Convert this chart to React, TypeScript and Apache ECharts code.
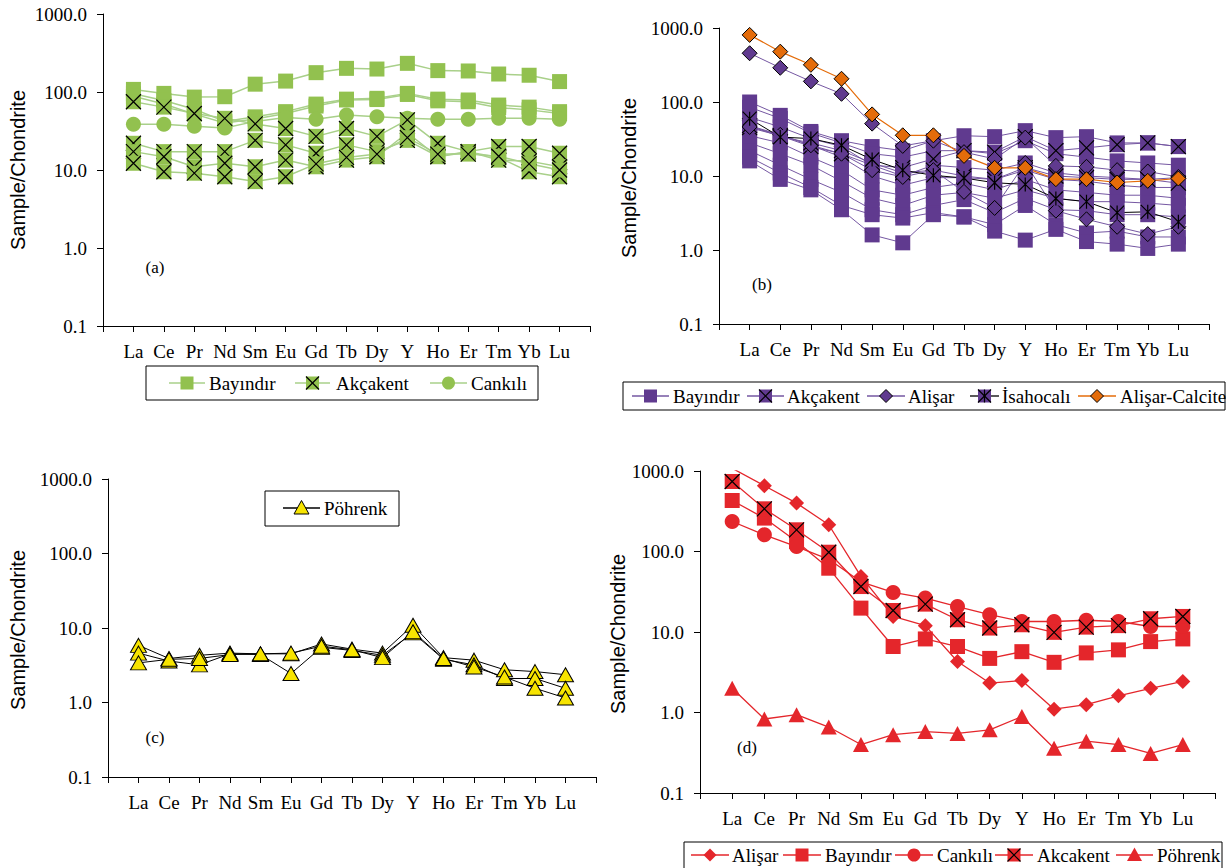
import React, { useEffect, useRef } from 'react';
import * as echarts from 'echarts';

// ---------- data ----------
const REE = ['La', 'Ce', 'Pr', 'Nd', 'Sm', 'Eu', 'Gd', 'Tb', 'Dy', 'Y', 'Ho', 'Er', 'Tm', 'Yb', 'Lu'];

// panel (a)
const aBayindir1 = [108, 96, 86, 87, 126, 138, 177, 201, 197, 233, 188, 186, 170, 164, 136];
const aBayindir2 = [95, 78, 60, 42, 48, 56, 70, 81, 83, 96, 81, 79, 68, 64, 56];
const aBayindir3 = [88, 70, 52, 40, 45, 53, 66, 79, 80, 93, 77, 75, 63, 59, 53];
const aCankili = [38.5, 38.5, 36.5, 34.5, 42, 47, 44.7, 50.7, 48, 46, 44.7, 44.7, 46, 46, 44.7];
const aAkcakent1 = [75, 64, 53, 46, 39, 34, 27, 34, 27, 44, 22, 17.2, 20, 20, 16.4];
const aAkcakent2 = [22, 17.2, 17.2, 17.2, 24, 21, 16.4, 21, 17.2, 24, 15, 17.2, 13.4, 13, 11];
const aAkcakent3 = [17.2, 14.8, 11, 12.2, 11, 13.4, 11, 13.4, 14.8, 30, 14.8, 17, 14.5, 9.5, 8.2];
const aAkcakent4 = [12.2, 9.5, 9.1, 8.2, 7.1, 8.2, 12, 14.5, 16, 26, 16, 16, 15, 12, 10];

// panel (b)
const bBayindir1 = [100, 66, 40, 30, 25, 22, 30, 35, 34, 41, 33, 34, 28, 28, 25];
const bBayindir2 = [85, 60, 38, 28, 20, 18, 22, 22, 20, 30, 20, 18, 16, 15, 14];
const bBayindir3 = [62, 46, 32, 25, 14, 10, 14, 13, 12, 15, 11, 10, 9.5, 9, 9.5];
const bBayindir4 = [48, 36, 26, 18, 10, 7.5, 9.5, 9.5, 9, 12, 9, 8.5, 7.5, 7, 7];
const bBayindir5 = [35, 28, 18, 12, 6.5, 5.5, 7, 8, 6.5, 9, 6.5, 6, 5.5, 5.5, 5];
const bBayindir6 = [28, 20, 14, 8.5, 5, 4, 5.5, 6, 5, 6.5, 5, 4.5, 4.5, 4.3, 4];
const bBayindir7 = [22, 14, 9, 6, 3.5, 3, 4, 4.8, 3.2, 5, 3.5, 3.4, 3, 3, 2.8];
const bBayindir8 = [18, 11, 7, 4, 3, 2.7, 3.2, 2.8, 2.2, 4, 2.2, 1.7, 1.8, 1.5, 1.5];
const bBayindir9 = [16, 9, 6.5, 3.5, 1.6, 1.25, 3.0, 2.8, 1.8, 1.36, 1.9, 1.3, 1.2, 1.05, 1.2];
const bAkcakent1 = [45, 35, 25, 20, 14, 13, 17, 22, 21, 34, 22, 24, 26.5, 28, 25];
const bAkcakent2 = [48, 34, 28, 22, 15, 11, 12, 10, 9, 13, 10, 9.5, 9, 9, 8];
const bAlisar1 = [456, 290, 190, 129, 51, 25.5, 30, 21, 17, 33, 13.7, 13.3, 12, 11.5, 9.7];
const bAlisar2 = [46, 36, 26, 20, 12, 9.7, 12, 6.1, 3.7, 15, 3.4, 2.6, 2.06, 1.64, 2.06];
const bIsahocali = [59.6, 33.6, 32, 26, 16.7, 12, 10.2, 9.4, 8.1, 7.7, 4.97, 4.5, 3.2, 3.28, 2.4];
const bAlisarCalcite = [807, 479, 318, 206, 68, 35.5, 35.5, 18.7, 12.9, 12.9, 9.06, 9.06, 8.17, 8.6, 9.25];

// panel (c)
const cPohrenk1 = [5.85, 3.9, 4.3, 4.6, 4.5, 4.5, 6.1, 5.2, 4.6, 10.9, 4.0, 3.7, 2.75, 2.6, 2.36];
const cPohrenk2 = [4.6, 3.6, 3.2, 4.5, 4.4, 2.45, 5.5, 5.0, 4.3, 8.6, 3.8, 3.2, 2.1, 2.1, 1.55];
const cPohrenk3 = [3.4, 3.8, 3.9, 4.4, 4.5, 4.6, 5.7, 5.1, 4.0, 8.9, 3.9, 3.0, 2.2, 1.55, 1.15];

// panel (d)
const dAlisar = [1080, 655, 399, 215, 49, 15.6, 12, 4.3, 2.32, 2.5, 1.1, 1.25, 1.61, 2.0, 2.43];
const dBayindir = [430, 260, 133, 62, 19.8, 6.6, 8.2, 6.6, 4.7, 5.7, 4.2, 5.5, 6.0, 7.6, 8.2];
const dCankili = [236, 161, 115, 80, 42, 31, 26.4, 20.7, 16.4, 13.5, 13.5, 14, 13.5, 11.7, 11.7];
const dAkcakent = [741, 339, 186, 98, 36.7, 18.5, 22.2, 14.2, 11.2, 12.3, 9.9, 11.5, 12.0, 14.6, 15.6];
const dPohrenk = [2.0, 0.83, 0.94, 0.66, 0.40, 0.53, 0.58, 0.55, 0.61, 0.89, 0.36, 0.44, 0.40, 0.31, 0.40];

// ---------- styles ----------
const SERIF = '"Liberation Serif", "Times New Roman", serif';
const SANS = '"Liberation Sans", Arial, sans-serif';
const GREEN = '#92c14f';
const GREEN_LINE = '#a9d08a';
const PURPLE = '#603a8f';
const PURPLE_LINE = '#7557a2';
const ORANGE = '#e46c0a';
const YELLOW = '#f7e400';
const RED = '#e4262b';
const X_PATH = 'path://M0 0L10 10M10 0L0 10';
const STAR_PATH = 'path://M0 0L10 10M10 0L0 10M5 0L5 10';

const GRIDS = [
  { left: 103, top: 14, width: 487, height: 312 },
  { left: 719, top: 28, width: 490, height: 296 },
  { left: 108, top: 479, width: 488, height: 298 },
  { left: 700, top: 471, width: 515, height: 322 },
];

type Mk = {
  symbol: string;
  size: number | number[];
  fill: string;
  border?: string;
  line: string;
  lw: number;
  overlay?: string;
};

function seriesFor(g: number, name: string, vals: number[], m: Mk): any[] {
  const data = vals.map((v, i) => [i + 1, v]);
  const out: any[] = [
    {
      type: 'line',
      name,
      xAxisIndex: g,
      yAxisIndex: g,
      data,
      symbol: m.symbol,
      symbolSize: m.size,
      itemStyle: { color: m.fill, borderColor: m.border || m.fill, borderWidth: m.border ? 1 : 0 },
      lineStyle: { color: m.line, width: m.lw },
      silent: true,
      emphasis: { disabled: true },
      clip: true,
    },
  ];
  if (m.overlay) {
    out.push({
      type: 'line',
      name: name + ' marker',
      xAxisIndex: g,
      yAxisIndex: g,
      data,
      symbol: m.overlay,
      symbolSize: m.size,
      itemStyle: { color: 'rgba(0,0,0,0)', borderColor: '#000', borderWidth: 1.2 },
      lineStyle: { width: 0, opacity: 0 },
      silent: true,
      emphasis: { disabled: true },
      clip: true,
    });
  }
  return out;
}

// ---------- legend graphics ----------
function marker(kind: string, cx: number, cy: number, s: number, fill: string, border?: string): any[] {
  const st: any = { fill, stroke: border || null, lineWidth: border ? 1 : 0 };
  const h = s / 2;
  const els: any[] = [];
  if (kind === 'rect' || kind === 'xrect' || kind === 'star') {
    els.push({ type: 'rect', shape: { x: cx - h, y: cy - h, width: s, height: s }, style: st });
  } else if (kind === 'circle') {
    els.push({ type: 'circle', shape: { cx, cy, r: h }, style: st });
  } else if (kind === 'diamond') {
    els.push({ type: 'polygon', shape: { points: [[cx, cy - h], [cx + h, cy], [cx, cy + h], [cx - h, cy]] }, style: st });
  } else if (kind === 'triangle') {
    els.push({ type: 'polygon', shape: { points: [[cx, cy - h], [cx + h, cy + h * 0.8], [cx - h, cy + h * 0.8]] }, style: st });
  }
  if (kind === 'xrect' || kind === 'star') {
    const ls = { stroke: '#000', lineWidth: 1.2 };
    els.push({ type: 'line', shape: { x1: cx - h, y1: cy - h, x2: cx + h, y2: cy + h }, style: ls });
    els.push({ type: 'line', shape: { x1: cx + h, y1: cy - h, x2: cx - h, y2: cy + h }, style: ls });
    if (kind === 'star') els.push({ type: 'line', shape: { x1: cx, y1: cy - h, x2: cx, y2: cy + h }, style: ls });
  }
  return els;
}

function legendItem(x1: number, x2: number, cy: number, kind: string, fill: string, lineColor: string, label: string, textX: number, border?: string, s = 13): any[] {
  return [
    { type: 'line', shape: { x1, y1: cy, x2, y2: cy }, style: { stroke: lineColor, lineWidth: 1.3 } },
    ...marker(kind, (x1 + x2) / 2, cy, s, fill, border),
    { type: 'text', x: textX, y: cy, style: { text: label, font: `19px ${SERIF}`, fill: '#000', align: 'left', verticalAlign: 'middle' } },
  ];
}

function frame(x: number, y: number, w: number, h: number): any {
  return { type: 'rect', shape: { x, y, width: w, height: h }, style: { fill: '#fff', stroke: '#000', lineWidth: 1 } };
}

function ytitle(x: number, y: number): any {
  return {
    type: 'text', x, y, rotation: Math.PI / 2,
    style: { text: 'Sample/Chondrite', font: `20px ${SANS}`, fill: '#000', align: 'center', verticalAlign: 'middle' },
  };
}

function tag(x: number, y: number, t: string): any {
  return { type: 'text', x, y, style: { text: t, font: `17px ${SERIF}`, fill: '#000', align: 'center', verticalAlign: 'middle' } };
}

export default function App() {
  const ref = useRef<HTMLDivElement>(null);
  useEffect(() => {
    if (!ref.current) return;
    const chart = echarts.init(ref.current, null, { renderer: 'svg' });

    const aBay: Mk = { symbol: 'rect', size: 15, fill: GREEN, line: GREEN_LINE, lw: 1.5 };
    const aAk: Mk = { symbol: 'rect', size: 15, fill: GREEN, line: GREEN_LINE, lw: 1.5, overlay: X_PATH };
    const aCan: Mk = { symbol: 'circle', size: 15, fill: GREEN, line: GREEN_LINE, lw: 1.5 };
    const bBay: Mk = { symbol: 'rect', size: 15, fill: PURPLE, line: PURPLE_LINE, lw: 1 };
    const bAk: Mk = { symbol: 'rect', size: 15, fill: PURPLE, line: PURPLE_LINE, lw: 1, overlay: X_PATH };
    const bAli: Mk = { symbol: 'diamond', size: 15, fill: PURPLE, border: '#000', line: PURPLE_LINE, lw: 1 };
    const bIsa: Mk = { symbol: 'rect', size: 14, fill: PURPLE, line: '#000', lw: 1, overlay: STAR_PATH };
    const bCal: Mk = { symbol: 'diamond', size: 15, fill: ORANGE, border: '#000', line: ORANGE, lw: 1.2 };
    const cPoh: Mk = { symbol: 'triangle', size: [16, 14], fill: YELLOW, border: '#000', line: '#000', lw: 1 };
    const dAli: Mk = { symbol: 'diamond', size: 15, fill: RED, line: RED, lw: 1.3 };
    const dBay: Mk = { symbol: 'rect', size: 15, fill: RED, line: RED, lw: 1.3 };
    const dCan: Mk = { symbol: 'circle', size: 15, fill: RED, line: RED, lw: 1.3 };
    const dAk: Mk = { symbol: 'rect', size: 15, fill: RED, line: RED, lw: 1.3, overlay: X_PATH };
    const dPoh: Mk = { symbol: 'triangle', size: [16, 15], fill: RED, line: RED, lw: 1.3 };

    const series: any[] = [
      ...seriesFor(0, 'Bayındır', aBayindir1, aBay),
      ...seriesFor(0, 'Bayındır', aBayindir2, aBay),
      ...seriesFor(0, 'Bayındır', aBayindir3, aBay),
      ...seriesFor(0, 'Cankılı', aCankili, aCan),
      ...seriesFor(0, 'Akçakent', aAkcakent1, aAk),
      ...seriesFor(0, 'Akçakent', aAkcakent2, aAk),
      ...seriesFor(0, 'Akçakent', aAkcakent3, aAk),
      ...seriesFor(0, 'Akçakent', aAkcakent4, aAk),

      ...seriesFor(1, 'Bayındır', bBayindir1, bBay),
      ...seriesFor(1, 'Bayındır', bBayindir2, bBay),
      ...seriesFor(1, 'Bayındır', bBayindir3, bBay),
      ...seriesFor(1, 'Bayındır', bBayindir4, bBay),
      ...seriesFor(1, 'Bayındır', bBayindir5, bBay),
      ...seriesFor(1, 'Bayındır', bBayindir6, bBay),
      ...seriesFor(1, 'Bayındır', bBayindir7, bBay),
      ...seriesFor(1, 'Bayındır', bBayindir8, bBay),
      ...seriesFor(1, 'Bayındır', bBayindir9, bBay),
      ...seriesFor(1, 'Akçakent', bAkcakent1, bAk),
      ...seriesFor(1, 'Akçakent', bAkcakent2, bAk),
      ...seriesFor(1, 'Alişar', bAlisar1, bAli),
      ...seriesFor(1, 'Alişar', bAlisar2, bAli),
      ...seriesFor(1, 'İsahocalı', bIsahocali, bIsa),
      ...seriesFor(1, 'Alişar-Calcite', bAlisarCalcite, bCal),

      ...seriesFor(2, 'Pöhrenk', cPohrenk1, cPoh),
      ...seriesFor(2, 'Pöhrenk', cPohrenk2, cPoh),
      ...seriesFor(2, 'Pöhrenk', cPohrenk3, cPoh),

      ...seriesFor(3, 'Alişar', dAlisar, dAli),
      ...seriesFor(3, 'Bayındır', dBayindir, dBay),
      ...seriesFor(3, 'Cankılı', dCankili, dCan),
      ...seriesFor(3, 'Akcakent', dAkcakent, dAk),
      ...seriesFor(3, 'Pöhrenk', dPohrenk, dPoh),
    ];

    const xAxis = GRIDS.map((_, i) => ({
      type: 'value',
      gridIndex: i,
      min: 0,
      max: 16,
      interval: 1,
      axisLine: { show: true, onZero: false, lineStyle: { color: '#000', width: 1 } },
      axisTick: { show: true, length: 6, lineStyle: { color: '#000', width: 1 } },
      axisLabel: {
        margin: 16,
        color: '#000',
        fontFamily: SERIF,
        fontSize: 19,
        formatter: (v: number) => REE[Math.round(v) - 1] || '',
      },
      splitLine: { show: false },
    }));

    const yAxis = GRIDS.map((_, i) => ({
      type: 'log',
      logBase: 10,
      gridIndex: i,
      min: 0.1,
      max: 1000,
      axisLine: { show: true, onZero: false, lineStyle: { color: '#000', width: 1 } },
      axisTick: { show: true, length: 6, lineStyle: { color: '#000', width: 1 } },
      axisLabel: {
        margin: 16,
        color: '#000',
        fontFamily: SERIF,
        fontSize: 19,
        formatter: (v: number) => Number(v).toFixed(1),
      },
      splitLine: { show: false },
      minorTick: { show: false },
    }));

    const graphic: any[] = [
      ytitle(18, 170),
      ytitle(629, 178),
      ytitle(18, 630),
      ytitle(618, 634),
      tag(155, 267, '(a)'),
      tag(762, 284, '(b)'),
      tag(155, 737, '(c)'),
      tag(747, 747, '(d)'),

      // legend (a)
      frame(146, 366, 392, 34),
      ...legendItem(169, 205, 383, 'rect', GREEN, GREEN_LINE, 'Bayındır', 209),
      ...legendItem(295, 330, 383, 'xrect', GREEN, GREEN_LINE, 'Akçakent', 336),
      ...legendItem(430, 467, 383, 'circle', GREEN, GREEN_LINE, 'Cankılı', 471),

      // legend (b)
      frame(623, 382, 602, 28),
      ...legendItem(632, 669, 396, 'rect', PURPLE, PURPLE_LINE, 'Bayındır', 673),
      ...legendItem(747, 784, 396, 'xrect', PURPLE, PURPLE_LINE, 'Akçakent', 787),
      ...legendItem(867, 905, 396, 'diamond', PURPLE, PURPLE_LINE, 'Alişar', 908, '#000'),
      ...legendItem(970, 999, 396, 'star', PURPLE, '#000', 'İsahocalı', 1002),
      ...legendItem(1078, 1116, 396, 'diamond', ORANGE, ORANGE, 'Alişar-Calcite', 1120, '#000'),

      // legend (c)
      frame(265, 491, 134, 35),
      ...legendItem(283, 320, 508, 'triangle', YELLOW, '#000', 'Pöhrenk', 324, '#000', 15),

      // legend (d)
      frame(684, 842, 538, 30),
      ...legendItem(691, 729, 855, 'diamond', RED, RED, 'Alişar', 732),
      ...legendItem(783, 821, 855, 'rect', RED, RED, 'Bayındır', 825),
      ...legendItem(895, 933, 855, 'circle', RED, RED, 'Cankılı', 937),
      ...legendItem(995, 1033, 855, 'xrect', RED, RED, 'Akcakent', 1037),
      ...legendItem(1116, 1153, 855, 'triangle', RED, RED, 'Pöhrenk', 1157, undefined, 15),
    ];

    chart.setOption({
      animation: false,
      backgroundColor: '#fff',
      textStyle: { fontFamily: SERIF },
      grid: GRIDS.map((g) => ({ ...g, containLabel: false })),
      xAxis,
      yAxis,
      series,
      graphic: { elements: graphic },
    });

    return () => chart.dispose();
  }, []);

  return (
    <div
      ref={ref}
      style={{ position: 'fixed', left: 0, top: 0, width: 1226, height: 868, background: '#fff' }}
    />
  );
}
